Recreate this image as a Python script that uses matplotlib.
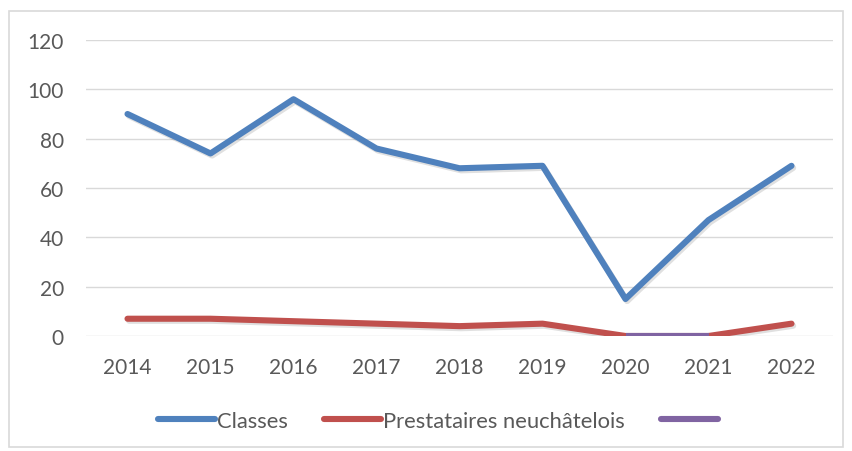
import matplotlib.pyplot as plt
import matplotlib.patheffects as pe
import numpy as np

years = ["2014", "2015", "2016", "2017", "2018", "2019", "2020", "2021", "2022"]
classes = [90, 74, 96, 76, 68, 69, 15, 47, 69]
prestataires = [7, 7, 6, 5, 4, 5, 0, 0, 5]
third = [np.nan, np.nan, np.nan, np.nan, np.nan, np.nan, 0, 0, np.nan]

BLUE = "#4f81bd"
RED = "#c0504d"
PURPLE = "#8064a2"
TEXT = "#595959"
GRID = "#d9d9d9"

plt.rcParams["font.family"] = ["Lato", "DejaVu Sans"]

fig = plt.figure(figsize=(8.52, 4.52), dpi=100)
ax = fig.add_axes([86 / 852, 1 - 337 / 452, (833 - 86) / 852, (337 - 41) / 452])

shadow = [pe.SimpleLineShadow(offset=(1.2, -1.5), alpha=0.12, shadow_color="black"), pe.Normal()]
x = np.arange(len(years))
l1, = ax.plot(x, classes, color=BLUE, linewidth=4.4, solid_capstyle="round",
              solid_joinstyle="round", path_effects=shadow, zorder=3)
l2, = ax.plot(x, prestataires, color=RED, linewidth=4.4, solid_capstyle="round",
              solid_joinstyle="round", path_effects=shadow, zorder=3)
l3, = ax.plot(x, third, color=PURPLE, linewidth=4.4, solid_capstyle="butt",
              zorder=4)

ax.set_xlim(-0.5, len(years) - 0.5)
ax.set_ylim(0, 120)
ax.set_yticks(range(0, 121, 20))
ax.set_xticks(x)
ax.set_xticklabels(years)
ax.yaxis.grid(True, color=GRID, linewidth=1)
ax.set_axisbelow(True)
for s in ax.spines.values():
    s.set_visible(False)
ax.tick_params(length=0, labelsize=15, colors=TEXT)
ax.tick_params(axis="y", pad=16)
ax.tick_params(axis="x", pad=15)

leg = fig.legend([l1, l2, l3], ["Classes", "Prestataires neuchâtelois", ""],
                 loc="center", bbox_to_anchor=(439 / 852, 1 - 422 / 452), ncol=3,
                 frameon=False, fontsize=15.8, handlelength=2.6,
                 handletextpad=0.1, columnspacing=1.65)
for t in leg.get_texts():
    t.set_color(TEXT)
for h in leg.legend_handles:
    h.set_solid_capstyle("round")
    h.set_path_effects([])

border = plt.Rectangle((9 / 852, 1 - 448 / 452), (843 - 9) / 852, (448 - 12) / 452,
                       transform=fig.transFigure, fill=False, edgecolor=GRID,
                       linewidth=1.2)
fig.patches.append(border)

fig.savefig("out.png", dpi=100)
